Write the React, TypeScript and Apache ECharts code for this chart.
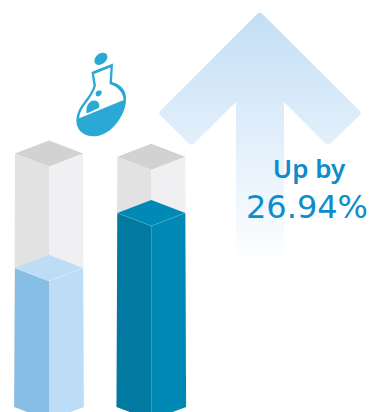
import React, { useEffect, useRef } from "react";
import * as echarts from "echarts";

// Two isometric columns against a truncated value axis.
const categories = ["Before", "After"];
const fillValues = [100, 126.94];
const trackValues = [156, 154.5];
const headlineLabel = "Up by";
const headlineValue = "26.94%";

const AXIS_MIN = 32;
const AXIS_MAX = 237.5;

type Faces = { left: string; right: string; top: string; seam?: string };

const palettes: { track: Faces; fill: Faces[] } = {
  track: { left: "#e2e2e3", right: "#f0f0f2", top: "#d2d2d3" },
  fill: [
    { left: "#87bee6", right: "#bddcf6", top: "#bddcf6", seam: "rgba(255,255,255,0.45)" },
    { left: "#0179a1", right: "#0189b6", top: "#0189b6", seam: "rgba(255,255,255,0.22)" },
  ],
};

const ARROW_PATH =
  "M257 14 Q259.7 11.3 262.4 14 L359.4 110.4 Q362 113 359.4 115.6 L330.6 143.6 Q328 146 325.4 143.6 L284 102 L284 268 L236 268 L236 102 L194 143.6 Q191.4 146 188.8 143.6 L160.6 115.6 Q158 113 160.6 110.4 Z";

// Flask: solid silhouette, white interior above the liquid line, two bubbles.
const FLASK_BODY =
  "M91.5 72 L113 63.5 L112 82 C120 84 127 90 126 100 C126 112 115 132 98 136 C84 138 75 130 76.5 118 C78 105 90 98 93.5 86 Z";
const FLASK_INTERIOR =
  "M94 74 L110.5 67.5 L109.5 84 C116 86 123 91 123.7 100 L79.3 118.3 C80 106 92 100 96 85.5 Z";
const FLASK_STOPPER =
  "M94.5 62 C93.5 58 98 53 102.5 52.7 C107 52.5 108.5 56 106.5 60 C104 65 96 67 94.5 62 Z";
const FLASK_BIG_BUBBLE =
  "M86.5 113 C85.5 106 89.5 100.5 94 100.5 C98.5 100.5 100.5 105 98.6 108 L88 113 Z";
const FLASK_SMALL_BUBBLE =
  "M95.8 95 C95 92 97.5 90.6 99.5 90.6 C102 90.6 102.3 93 100.8 94.8 C99.2 96.8 96.6 97 95.8 95 Z";

echarts.graphic.registerShape("arrowUp", echarts.graphic.extendPath(ARROW_PATH, {}));
echarts.graphic.registerShape("flaskBody", echarts.graphic.extendPath(FLASK_BODY, {}));
echarts.graphic.registerShape("flaskInterior", echarts.graphic.extendPath(FLASK_INTERIOR, {}));
echarts.graphic.registerShape("flaskStopper", echarts.graphic.extendPath(FLASK_STOPPER, {}));
echarts.graphic.registerShape("flaskBigBubble", echarts.graphic.extendPath(FLASK_BIG_BUBBLE, {}));
echarts.graphic.registerShape("flaskSmallBubble", echarts.graphic.extendPath(FLASK_SMALL_BUBBLE, {}));

const HALF_WIDTH = 34;
const HALF_DEPTH = 13;

// One prism: side faces from the base to the value, and a rhombus cap on top.
function prism(cx: number, topY: number, baseY: number, c: Faces) {
  const sideY = topY - HALF_DEPTH;
  const poly = (points: number[][], fill: string) => ({
    type: "polygon",
    shape: { points },
    style: { fill },
    silent: true,
  });
  const faces: any[] = [
    poly([[cx - HALF_WIDTH, sideY], [cx, topY], [cx, baseY], [cx - HALF_WIDTH - 0.8, baseY - HALF_DEPTH]], c.left),
    poly([[cx, topY], [cx + HALF_WIDTH, sideY], [cx + HALF_WIDTH + 0.8, baseY - HALF_DEPTH], [cx, baseY]], c.right),
    poly([[cx - HALF_WIDTH, sideY], [cx, sideY - HALF_DEPTH], [cx + HALF_WIDTH, sideY], [cx, topY]], c.top),
  ];
  if (c.seam) {
    faces.push({
      type: "polyline",
      shape: { points: [[cx - HALF_WIDTH, sideY], [cx, topY], [cx + HALF_WIDTH, sideY]] },
      style: { fill: "none", stroke: c.seam, lineWidth: 0.6 },
      silent: true,
    });
  }
  return faces;
}

export default function App() {
  const ref = useRef<HTMLDivElement>(null);

  useEffect(() => {
    document.body.style.margin = "0";
    const chart = echarts.init(ref.current!, undefined, { renderer: "svg" });
    const flaskColor = "#2aa9d4";
    const columnSeries = (values: number[], z: number, colorOf: (i: number) => Faces) => ({
      type: "custom",
      clip: false,
      z,
      data: categories.map((_, i) => [i, values[i]]),
      renderItem: (_p: unknown, api: any) => {
        const i = api.value(0);
        const [cx, topY] = api.coord([i, api.value(1)]);
        const [, baseY] = api.coord([i, AXIS_MIN]);
        return { type: "group", children: prism(cx, topY, baseY, colorOf(i)) };
      },
    });
    chart.setOption({
      animation: false,
      backgroundColor: "#ffffff",
      grid: { left: -2.15, top: 0, width: 204.6, height: 420, outerBoundsMode: "none" },
      xAxis: { type: "category", data: categories, show: false },
      yAxis: { type: "value", min: AXIS_MIN, max: AXIS_MAX, show: false },
      graphic: [
        {
          type: "arrowUp",
          z: 0,
          style: {
            fill: new echarts.graphic.LinearGradient(0, 0, 0, 1, [
              { offset: 0, color: "#c3dff5" },
              { offset: 0.5, color: "#e2effb" },
              { offset: 1, color: "#ffffff" },
            ]),
          },
        },
        { type: "flaskBody", z: 5, style: { fill: flaskColor } },
        { type: "flaskInterior", z: 6, style: { fill: "#ffffff" } },
        { type: "flaskStopper", z: 6, style: { fill: flaskColor } },
        { type: "flaskBigBubble", z: 7, style: { fill: flaskColor } },
        { type: "flaskSmallBubble", z: 7, style: { fill: flaskColor } },
        {
          type: "text",
          z: 7,
          x: 309,
          y: 168,
          style: {
            text: headlineLabel,
            fill: "#0e8ccb",
            font: '600 26px "Noto Sans"',
            align: "center",
            verticalAlign: "middle",
          },
        },
        {
          type: "text",
          z: 7,
          x: 307,
          y: 207,
          style: {
            text: headlineValue,
            fill: "#0e8ccb",
            font: '32px "DejaVu Sans"',
            align: "center",
            verticalAlign: "middle",
          },
        },
      ],
      series: [
        columnSeries(trackValues, 2, () => palettes.track),
        columnSeries(fillValues, 3, (i) => palettes.fill[i]),
      ],
    });
    return () => chart.dispose();
  }, []);

  return <div ref={ref} style={{ position: "absolute", left: 0, top: 0, width: 371, height: 412 }} />;
}
